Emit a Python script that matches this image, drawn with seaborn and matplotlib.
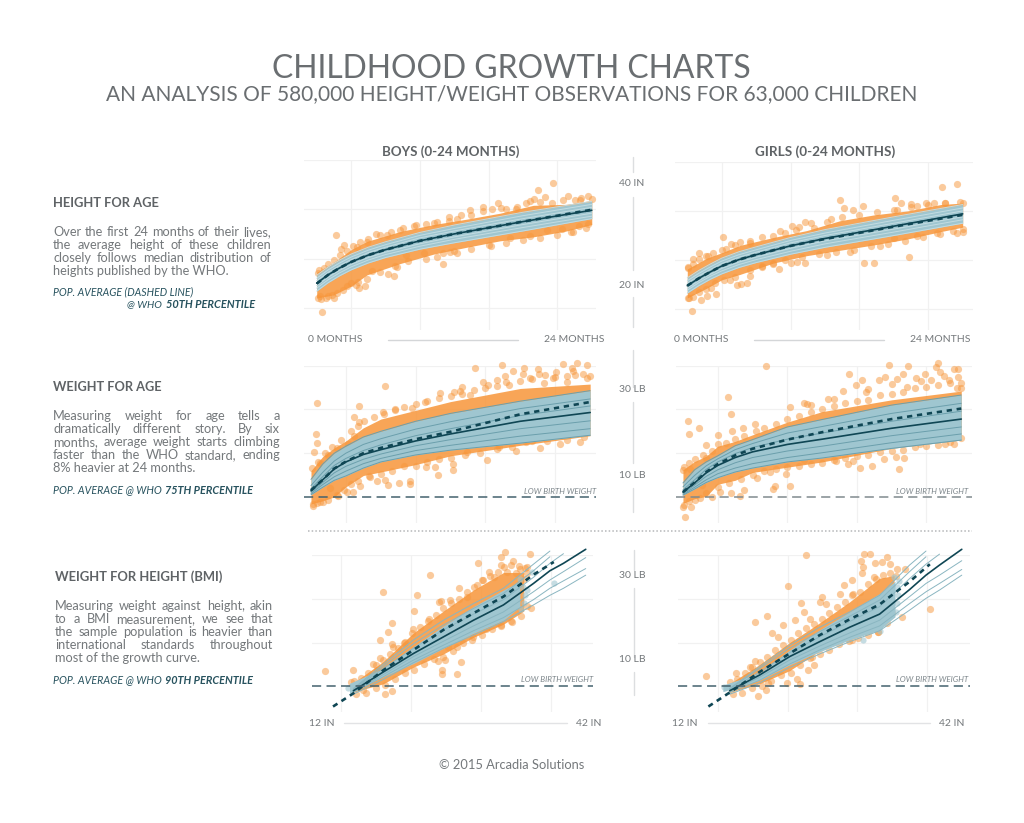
import matplotlib
matplotlib.use("Agg")
import matplotlib.pyplot as plt
import seaborn as sns
import numpy as np

# ---------- data ----------
age_knots = [0, 1, 2, 3, 4.5, 6, 9, 12, 18, 24]
bmi_knots = [19.7, 22.8, 25.9, 29.0, 32.1, 35.2, 38.3, 40.0, 41.4, 43.7]
nan = float("nan")

# boys height (in)
bh_p03 = [18.4,20.1,21.5,22.7,24.1,25.2,26.9,28.2,30.6,33.1]
bh_p10 = [19.0,20.7,22.1,23.3,24.7,25.8,27.5,28.9,31.3,33.6]
bh_p25 = [19.5,21.2,22.6,23.8,25.2,26.3,28.0,29.4,31.9,34.2]
bh_p50 = [20.0,21.7,23.1,24.3,25.7,26.8,28.6,30.0,32.5,34.8]
bh_p75 = [20.5,22.2,23.6,24.8,26.2,27.3,29.2,30.6,33.1,35.4]
bh_p90 = [21.0,22.7,24.1,25.3,26.7,27.8,29.7,31.1,33.7,36.0]
bh_p97 = [21.6,23.3,24.7,25.9,27.3,28.4,30.3,31.8,34.4,36.6]
bh_pop = [19.9,21.7,23.1,24.3,25.7,26.8,28.6,30.0,32.5,34.9]
bh_env_x = [0,1.45,3,4.4,7.3,10.2,13.1,16,18.9,21.8,24]
bh_env_hi = [22.2,24.2,26.8,28.5,30.5,31.9,33.0,34.2,35.8,36.0,36.8]
bh_env_lo = [17.0,17.6,19.4,21.7,24.0,25.9,27.3,28.6,29.4,30.6,31.9]
bh_points = [(20.6,40.4),(19.3,38.9),(21.9,37.6),(23.7,37.6),(23.1,37.2),(22.5,36.9),(19.9,37.4),(19,37),(18.6,36.6),(18.3,36.2),(15.8,36.2),(14.5,35.5),(13.4,34.8),(15.3,35),(16.1,35.3),(17.4,35.1),(11.5,33.5),(12.6,33.9),(12.2,33),(1.7,29.7),(2.4,27.8),(2.1,27),(5.2,29.9),(4.4,28.4),(3.5,27.4),(7.3,30.8),(6.1,29.8),(8.7,31.8),(10.2,32.2),(11,23.9),(6.2,21.8),(6.7,21.4),(4.2,19.5),(3.6,20.3),(3.7,19),(3,20.1),(2.3,18.6),(1.5,17),(1,17.3),(0.5,14.1),(4.8,22.4),(6.8,23.4),(15.2,27.6),(12.2,26.2),(11.6,26.4),(11,26.2),(22.4,30.3),(22.9,31.6),(23.7,32),(21.4,30.9),(20.1,30.8),(18.6,29.6),(16.9,29.1),(9.4,26.1),(7.8,25.7),(.15,22),(.3,17.3)]
bh_edge = [(0.2,22.6),(0.6,23),(1,23.8),(1.5,24.8),(2,25.7),(2.6,26.6),(3.2,27.5),(3.8,28.3),(4.5,28.9),(5.5,29.8),(6.5,30.3),(7.5,31.1),(8.5,31.6),(9.5,32),(10.5,32.4),(11.5,32.6),(13.5,33.9),(14.5,34.6),(16.5,35),(17.5,35.4),(19.5,36.5),(20.5,36.3),(21.5,36.8),(23,36.8),(24,37),(.1,17),(.4,16.7),(.8,16.9),(1.3,17.6),(1.8,18),(2.6,19.4),(3.4,19.6),(4.4,20.8),(5.5,22.2),(7,23.3),(8,24.5),(9.5,24.9),(10.5,25.4),(12,26.6),(13.5,26.9),(15,27.8),(16.5,28.2),(18,28.7),(19.5,29.2),(21,29.7),(22.2,30.4),(23.5,31.3)]

# girls height (in)
gh_p03 = [18.3,19.8,21.1,22.2,23.5,24.5,26.2,27.6,30.0,32.5]
gh_p10 = [18.9,20.4,21.7,22.8,24.1,25.1,26.8,28.3,30.7,33.2]
gh_p25 = [19.3,20.8,22.1,23.3,24.6,25.6,27.4,28.9,31.3,33.8]
gh_p50 = [19.8,21.3,22.6,23.8,25.1,26.1,27.9,29.4,31.9,34.4]
gh_p75 = [20.3,21.8,23.1,24.3,25.6,26.6,28.5,30.0,32.5,35.0]
gh_p90 = [20.8,22.3,23.6,24.8,26.1,27.1,29.0,30.5,33.1,35.6]
gh_p97 = [21.4,22.9,24.2,25.4,26.7,27.7,29.6,31.2,33.8,36.3]
gh_pop = [19.8,21.3,22.6,23.8,25.1,26.1,27.9,29.3,31.8,34.2]
gh_env_x = [0,1.7,3,4.6,7.5,10.4,13.3,16.3,19.2,22.1,24]
gh_env_hi = [23.2,25.4,26.5,28.0,29.6,31.0,33.0,34.2,35.0,36.3,36.6]
gh_env_lo = [17.3,19.3,21,22.1,24.4,25.9,27.0,28.1,29.3,30.8,31.7]
gh_points = [(22.2,39.9),(23.5,40.4),(13.3,37.2),(18.1,37.6),(18.6,36.6),(15.3,36),(13.7,35.5),(14.4,35.2),(19.5,36.4),(20.8,36.6),(21.5,36.6),(22.5,36.7),(24,36.6),(20,35.9),(18.3,35.2),(10.3,32.8),(10.8,32.5),(8.1,31),(9.1,32),(9.7,31.8),(12.2,32.8),(3.1,29.7),(3.4,27.2),(4.2,28.1),(5.5,28.4),(1.8,25.9),(1,26.4),(.5,25.2),(.1,23.4),(5.5,21.8),(5.2,20.3),(4.7,20.2),(4.3,19.9),(3.7,21),(2.5,18.2),(2.1,19.3),(1.7,17.8),(1.2,16.8),(.4,14.7),(.15,17.3),(8,23.2),(7.5,24.3),(6.5,23.9),(9,24.5),(9.6,24.7),(10.3,24.4),(12.2,26.1),(14.2,26.6),(15.4,24.5),(16.3,24.5),(16.8,27.9),(19.3,25.6),(18,29.5),(20,29.8),(21.8,30.5),(23.5,30.5),(24,30.8)]
gh_edge = [(.1,23.6),(.5,24.2),(1,25.2),(1.6,25.9),(2.2,26.5),(3,27.1),(3.8,28.3),(4.6,28.6),(5.5,28.9),(6.5,29.6),(7.5,30),(8.5,30.5),(9.5,31.2),(11,31.6),(12.5,33.3),(13.5,33.7),(15,34.2),(16.5,34.7),(18,35.1),(19.5,35.7),(21,36.3),(22.5,36.7),(23.8,36.9),(.1,17.4),(.5,17.6),(1,18.6),(1.6,19.2),(2.4,20.4),(3.2,21),(4.2,21.6),(5.5,23),(6.5,23.6),(7.5,24.4),(8.5,25),(10,25.6),(11.5,26.2),(13,26.7),(14.5,27),(16,27.8),(17.5,28.3),(19,28.8),(20.5,29.6),(22,30.4),(23.2,31),(24,31.3)]

# boys weight (lb)
bw_p03 = [5.5,7.2,8.8,9.8,11.6,13.0,14.6,15.7,17.3,19.1]
bw_p10 = [5.8,7.8,9.6,10.9,12.6,13.8,15.6,16.8,18.9,20.6]
bw_p25 = [6.1,8.3,10.5,12.0,13.6,14.8,16.7,18.1,20.6,22.4]
bw_p50 = [6.4,8.9,11.4,13.0,14.7,15.8,17.8,19.4,22.3,24.3]
bw_p75 = [6.9,9.6,12.2,13.8,15.6,16.9,19.0,20.6,23.6,25.8]
bw_p90 = [7.6,10.6,13.2,15.0,17.0,18.3,20.5,22.2,25.2,27.4]
bw_p97 = [9.0,12.5,15.0,16.6,18.7,20.0,22.3,24.1,26.9,29.3]
bw_pop = [6.5,8.9,11.5,13.1,15.0,16.2,18.2,19.9,23.9,26.7]
bw_env_hi = [11.0,14.2,16.2,17.8,20.8,22.8,24.8,26.8,29.8,30.8]
bw_env_lo = [3.4,4.1,5.0,7.3,9.9,10.7,12.4,14.4,16.8,19.0]
bw_points = [(14.1,34.4),(16.4,35.1),(18.3,34.5),(21.7,35.5),(22.9,35.7),(23.7,35.1),(22.4,34.4),(19.5,34.2),(20.1,32.8),(17.4,33.7),(16,31.8),(15.2,30.7),(16.8,31.3),(18.8,32.1),(20.8,32.1),(23.7,32.1),(22,31.3),(12.8,29.2),(11.1,28.8),(12.3,28.9),(13.7,28.3),(9.8,26.6),(8.7,25.4),(6.4,30.3),(7.2,24.8),(.5,26.5),(4.1,25.8),(3.7,23.2),(4.1,22.2),(6.2,24.5),(.4,19.3),(.5,17.4),(.3,15.3),(3.2,17.2),(3.7,19),(2.2,16.1),(1.5,14.6),(.8,12.7),(12.2,12.5),(12.2,11.2),(10.9,10),(10.7,11.9),(9.9,11.9),(15.1,13.4),(17.6,15.6),(19.7,16.1),(23.1,17.6),(21.4,17.2),(21.1,19.1),(8.5,8.6),(8.5,7.9),(7.6,8.1),(6.6,7.7),(6.4,8.9),(5.7,8.6),(5.1,9.6),(4.2,7.4),(3.6,6.2),(3.1,6.2),(2.3,5.1),(1.6,7),(.2,3.3),(.8,3.9),(18.5,17.6),(16.2,16.5),(13.4,15.3)]
bw_edge = [(.1,11.5),(.6,13),(1.2,15),(1.8,16.5),(2.6,18),(3.4,20),(4,21.2),(4.6,22.3),(5.4,23.3),(6.3,24),(7.2,25),(8,25.6),(9,26.3),(10,27),(11,27.6),(12,28.1),(13,28.5),(14,29.5),(15,29.8),(16,30.3),(17,30.7),(18,31.5),(19,31.9),(20,31),(21,32.5),(22,32.6),(22.7,32.9),(23.4,33),(24,32.7),(18.2,33),(19.6,33.2),(21.1,33.6),(22.5,33.8),(16.7,32.6),(14.8,31.2),(13,30.1),(.2,3),(.5,3.5),(1,3.8),(1.5,4.4),(2.2,5.4),(2.8,6.5),(3.4,8),(4,8.7),(5,9.7),(6,10.2),(7,11),(8,12),(9,12),(10,13),(11,13.6),(12,14),(13.2,14.6),(14.5,15.1),(16,15.9),(17.3,16.5),(19,17.8),(20.3,17.7),(22,18),(23.5,18.6)]

# girls weight (lb)
gw_p03 = [5.4,6.8,8.3,9.4,10.7,11.6,13.0,13.9,16.1,18.0]
gw_p10 = [5.6,7.2,8.9,10.3,11.6,12.6,14.0,15.1,17.4,19.4]
gw_p25 = [5.8,7.7,9.7,11.2,12.8,14.0,15.5,16.6,19.0,21.0]
gw_p50 = [6.1,8.2,10.5,12.2,14.0,15.3,17.0,18.2,20.7,22.8]
gw_p75 = [6.6,8.9,11.3,13.0,14.9,16.3,18.2,19.6,22.3,24.6]
gw_p90 = [7.3,9.9,12.1,13.7,15.8,17.2,19.6,21.1,24.1,26.4]
gw_p97 = [8.2,11.2,13.0,14.4,16.7,18.1,21.0,22.7,26.0,28.3]
gw_pop = [6.1,8.3,10.7,12.5,14.5,16.0,18.1,19.8,22.8,25.2]
gw_env_hi = [11.2,13.1,14.3,16.6,17.7,19.2,22.1,24.5,27.2,29.2]
gw_env_lo = [3.5,4.6,5.1,7.9,8.8,10.6,11.8,13.0,16.1,18.0]
gw_points = [(7.2,34.9),(14.3,33.2),(17.8,35.1),(19.4,35),(22,35.7),(21.8,34.7),(23.4,34.2),(23.7,34.2),(22.2,33.6),(16.9,31.8),(17.4,32.5),(18.5,31.9),(19,33),(15.4,31.7),(14.9,30.7),(13.8,29.2),(20.1,32.1),(20.9,33.2),(23.7,32.5),(22.9,31.7),(23.6,29.8),(19.3,30.2),(15.8,29),(13,27.5),(10.4,26.4),(10.7,26.2),(9.2,25.6),(3.9,27.8),(4.1,23.9),(.4,22.4),(1.4,20.8),(.5,19.4),(3,19.1),(2,16.9),(4.2,20),(6.2,21.7),(5.2,20.7),(2,13.8),(.03,11.2),(.6,11.4),(18.6,11.4),(15.3,11.5),(16.3,12.1),(17.3,13.7),(19.1,13.8),(18.4,14.2),(14.2,12.5),(14.7,13.1),(13.2,13.1),(20.4,17.2),(22.6,17.2),(23.4,17.2),(9.2,7.6),(7.9,7.6),(7.8,6.8),(8.9,10.2),(6.4,9.3),(5.3,6.6),(4.9,5.1),(4.1,5.8),(3.2,6.2),(2.5,4.9),(1.6,7.7),(.7,2.6),(0,2.6),(.2,.5),(7.5,10.8),(10.4,13.4),(24,18.5)]
gw_edge = [(.1,11.8),(.5,12.8),(1,13.6),(1.7,14.5),(2.5,15.5),(3,17),(3.7,17.3),(4.5,18.3),(5.3,18.9),(6.3,20),(7,20.7),(8,21.6),(9,22.8),(10,23.6),(11,24.5),(12,25.1),(13,25.7),(14,26.4),(15,26.9),(16,27.2),(17,28.2),(18,28.6),(19,29.1),(20,30),(21,30.2),(22,30.5),(23,31),(24,31),(24,30),(21.4,31.8),(20.5,31.5),(22.5,32.6),(16,29.7),(18,30.8),(12.5,27.3),(11,26),(.1,3.2),(.5,4),(1,4.3),(1.5,4.8),(2,5.8),(3,7.3),(4,8.1),(5,9),(6,10),(7,10.9),(8,11.3),(9,11.9),(10,12.1),(11,12.6),(12,12.8),(13,13.4),(14,13.8),(15,14.3),(16,14.6),(17,15.2),(18,15.5),(19,15.8),(20,16.4),(21,16.6),(22,16.8),(23,17.6)]

# boys weight for height
bb_p03 = [3.2,6.6,10.4,13.7,16.7,19.8,23.6,25.8,27.4,30.4]
bb_p10 = [3.6,7.2,11.0,14.4,17.7,20.7,24.8,27.4,29.1,31.9]
bb_p25 = [3.8,7.7,11.8,15.3,18.8,22.0,26.6,29.3,31.2,34.4]
bb_p50 = [4.0,8.3,12.5,16.3,20.1,23.6,28.5,31.4,33.1,36.3]
bb_p75 = [4.2,9.1,13.7,17.9,21.5,24.8,29.9,33.1,35.3,nan]
bb_p90 = [4.4,9.6,14.7,19.0,22.8,26.2,31.4,34.6,nan,nan]
bb_p97 = [4.5,10.1,15.6,20.1,23.9,27.4,32.9,35.9,nan,nan]
bb_pop_x = [17.6,19.7,22.8,25.9,29.0,32.1,35.2,38.3,40.4]
bb_pop = [0.4,3.4,8.7,13.3,17.9,21.7,25.5,30.5,33.4]
bb_band_x = [19.3,22.8,25.9,29.0,32.1,35.2,36.9]
bb_band_hi = [5.7,9.1,14.05,18.8,23.2,27,29.0]
bb_band_lo = [3.4,7.2,10.2,13.7,17.1,20.1,23.2]
bb_env_x = [19.5,22.8,25.9,29,32.1,35.2,37.3]
bb_env_hi = [5.5,10.7,17.2,22.2,27.0,31.0,31.0]
bb_env_lo = [3.6,5.6,9.4,12.4,16.2,19.2,22.2]
bb_points = [(16.8,8.4),(19.7,8.7),(22.8,26.6),(26.3,25.8),(27.6,30.5),(26,22.3),(23.7,19.4),(23.3,17.5),(22.5,15.5),(23.7,14.7),(23.8,14),(22.5,11.4),(21.7,10.2),(23,3.2),(23.7,3.9),(28.9,8.7),(28.9,7.8),(30.4,7.8),(30.8,10.5),(29.2,11),(28.4,10.9),(30.4,13.9),(29.5,14),(33.4,18),(35,19),(36.1,19.8),(37.6,23.3),(38,22.8),(34.5,19.4),(32.1,16.3),(32.6,33.2),(35,34.6),(35.4,35.6),(36.2,33.7),(37.9,35.2),(36.9,31.9),(37.6,32.3),(33.7,31.2),(35,32.7),(32.5,28.1),(30.6,27.4),(28.5,24.3),(28.8,24.5),(27.5,20.5),(29.7,24.8),(35.6,31.2),(31.4,25.5),(33.1,29.3),(34.2,30),(36.5,30.8),(19.5,6.1),(20.7,4.2),(25.9,18.2),(24.9,14.8),(22.1,8.7)]
bb_edge = [(19.8,6.2),(20.5,7),(21.2,8.1),(22,9.8),(22.8,11),(23.5,12.5),(24.3,13.8),(25,15.2),(25.8,17.3),(26.6,18.5),(27.4,20),(28.2,21.2),(29,22.8),(29.8,24),(30.6,25),(31.4,26.5),(32.2,27.8),(33,29.3),(33.8,30.3),(34.6,31.2),(35.3,32.3),(36,32.8),(36.8,32.5),(37.4,32),(37.6,30.8),(37.3,29.5),(20,3.3),(21,3.6),(22,4.6),(23,5.3),(24,6.8),(25,8),(26,8.8),(27,10),(28,11.2),(29,11.8),(30,13.1),(31,14.8),(32,15.7),(33,16.7),(34,18),(35,18.7),(36,20),(37,21)]
bb_faint = [(19.1,4.6),(37.2,27.7),(37.4,25.8),(37.3,24),(37,22.6),(36.9,29.6),(38.1,31.2),(40.4,28.6),(37.6,26.9)]

# girls weight for height
gb_p03 = [3.2,5.8,9.3,12.4,15.2,17.7,22.4,25.1,27.0,30.4]
gb_p10 = [3.6,6.4,10.1,13.3,16.2,18.8,23.9,26.6,28.5,31.7]
gb_p25 = [3.8,7.1,11.0,14.2,17.2,20.1,25.5,28.5,30.4,33.7]
gb_p50 = [4.0,7.6,11.8,15.2,18.5,21.5,27.1,30.4,32.7,36.3]
gb_p75 = [4.2,8.3,12.7,16.3,19.8,23.2,29.6,32.9,35.2,nan]
gb_p90 = [4.4,9.1,13.7,17.5,21.0,24.7,31.2,34.6,nan,nan]
gb_p97 = [4.5,9.5,14.4,18.5,22.0,25.8,32.7,35.9,nan,nan]
gb_pop_x = [17.5,19.7,22.8,25.9,29.0,32.1,35.2,38.3,40.4]
gb_pop = [0.4,3.6,8.3,12.5,16.7,20.3,23.7,28.9,32.9]
gb_band_x = [19.0,22.8,25.9,29.0,32.1,35.2,36.8]
gb_band_hi = [5.3,8.1,13.3,17.9,22.0,26.2,29.0]
gb_band_lo = [3.8,6.4,9.9,12.9,15.6,17.9,20.9]
gb_env_x = [19.6,22.8,25.9,29,32.1,35.2,36.7]
gb_env_hi = [5.5,10.0,15.0,19.5,24.3,29.7,30.3]
gb_env_lo = [3.6,5.6,8.6,13.1,15.8,18.1,21.1]
gb_points = [(27.6,35),(33.6,35.2),(34.2,35.3),(36,34.5),(33.3,33.7),(33.5,32.2),(36.3,32.9),(35.4,33.4),(34.7,33.1),(33.4,30.9),(37,31.9),(37.8,31.9),(32.4,29.4),(31.5,28.1),(31.1,26.2),(25.7,28),(40.4,22.6),(37.5,20.9),(36.5,21.7),(35.6,20.1),(35,17.5),(34.6,18.8),(22.3,19.6),(23.6,21),(27.1,24.1),(29.2,25.3),(29,24.3),(27.4,22),(26.5,20.1),(25.2,19),(24.1,17.1),(24.7,16.3),(17.3,7.4),(22.6,2.8),(25.6,5.8),(26.7,6.6),(27,5.5),(28.4,9.9),(27.8,8.7),(28.2,11.6),(32.3,15.7),(31.8,16),(33.2,17.5),(20.4,8),(21.8,9.5),(22.3,10.9),(20.3,5),(32.5,26.2),(29.7,23.9),(34.6,30),(28,20.5),(23.5,4.2),(23.7,5.7)]
gb_edge = [(19.7,6),(20.5,6.8),(21.3,8),(22,9.5),(22.8,10.5),(23.6,11.8),(24.4,13.2),(25.2,14.5),(26,15.6),(26.8,17.2),(27.6,18.3),(28.4,19.2),(29.2,20.3),(30,21.8),(30.8,23.2),(31.6,24.3),(32.4,25.8),(33.2,26.6),(34,28.3),(34.8,29.6),(35.6,30.5),(36.3,31),(36.9,30.2),(20,3.3),(21,3.5),(22,4.7),(23,5.1),(24,6.2),(25,7.6),(26,8),(27,9.9),(28,11.4),(29,12.5),(30,13.2),(31,14.6),(32,15.3),(33,16),(34,16.8),(35,17.5),(36,19.5)]
gb_faint = [(19.1,4.8),(37,27.8),(37.1,25.9),(37,24),(36.9,22),(36.7,30),(37.2,29),(33.5,15.6),(35.2,17.6)]

low_birth_weight = 5.0
age_grid = [3, 9, 15, 21]
height_grid = [15, 25, 35, 45]
weight_grid = [15, 25, 35]
bmi_grid = [18.46, 25.7, 32.9, 40.1]

# ---------- style ----------
sns.set_theme(style="white")
plt.rcParams["font.family"] = ["Lato", "DejaVu Sans"]
W, H = 1024, 823
fig = plt.figure(figsize=(W/100, H/100), dpi=100, facecolor="white")
renderer = fig.canvas.get_renderer()
GREY = "#74787b"
TEAL = "#27525e"
ORANGE = "#f7963a"
DARK = "#0f4654"

def put(s, x, y, size=9, color=GREY, ha="left", **kw):
    return fig.text(x/W, 1-y/H, s, fontsize=size, color=color, ha=ha, va="center", **kw)

def fit(s, x0, x1, y, size=9, color=GREY, **kw):
    t = put(s, x0, y, size, color, **kw)
    w = t.get_window_extent(renderer).width
    t.set_fontsize(size*(x1-x0)/w)
    return t

def justified(s, x0, x1, y, size=9.2, color=GREY):
    words = s.split()
    widths = []
    for w in words:
        t = put(w, 0, y, size, color)
        widths.append(t.get_window_extent(renderer).width)
        t.remove()
    gap = (x1-x0-sum(widths))/(len(words)-1)
    x = x0
    for w, wd in zip(words, widths):
        put(w, x, y, size, color)
        x += wd+gap

def hline(x0, x1, y, color="#d4d6d8", lw=1, **kw):
    fig.add_artist(plt.Line2D([x0/W, x1/W], [1-y/H, 1-y/H], color=color, lw=lw, **kw))

def vline(x, y0, y1, color="#dcdee0", lw=1):
    fig.add_artist(plt.Line2D([x/W, x/W], [1-y0/H, 1-y1/H], color=color, lw=lw))

def panel(rect, xlim, ylim, gx, gy, env, points, band, lines, solid, pop, lw_color, pop_x=None, x=None, lbw=None, faint=None):
    x0, y0, x1, y1 = rect
    ax = fig.add_axes([x0/W, 1-y1/H, (x1-x0)/W, (y1-y0)/H])
    ax.set_xlim(*xlim); ax.set_ylim(*ylim)
    ax.set_xticks(gx); ax.set_yticks(gy)
    ax.set_xticklabels([]); ax.set_yticklabels([])
    ax.tick_params(length=0)
    ax.grid(True, color="#f1f1f1", lw=0.9)
    ax.set_axisbelow(True)
    sns.despine(ax=ax, left=True, bottom=True)
    ex, ehi, elo = env
    ax.fill_between(ex, elo, ehi, color=ORANGE, alpha=0.85, lw=0, zorder=2)
    px, py = zip(*points)
    sns.scatterplot(x=list(px), y=list(py), ax=ax, s=27, color=ORANGE, alpha=0.5,
                    linewidth=0, legend=False, zorder=3, clip_on=False)
    bx, bhi, blo = band
    ax.fill_between(bx, blo, bhi, color="#9fc6d0", lw=0, zorder=4)
    if faint is not None:
        fx, fy = zip(*faint)
        sns.scatterplot(x=list(fx), y=list(fy), ax=ax, s=20, color="#9fc6d0", alpha=0.6,
                        linewidth=0, legend=False, zorder=4, clip_on=False)
    for ln in lines:
        sns.lineplot(x=x, y=ln, ax=ax, color=lw_color, lw=0.7, estimator=None, errorbar=None,
                     legend=False, zorder=5, clip_on=False)
    sns.lineplot(x=x, y=solid, ax=ax, color=DARK, lw=1.2, estimator=None, errorbar=None,
                 legend=False, zorder=6, clip_on=False)
    sns.lineplot(x=(pop_x if pop_x is not None else x), y=pop, ax=ax, color=DARK, lw=1.9,
                 linestyle=(0, (2.0, 1.8)), estimator=None, errorbar=None, legend=False, zorder=7, clip_on=False)
    if lbw is not None:
        ax.axhline(low_birth_weight, color=lbw, lw=1.1, dashes=(6, 3.5), zorder=8)
    return ax

# ---------- panels ----------
H_LINE = "#c3dce2"
W_LINE = "#6b9fac"
B_LINE = "#8ab6c1"
panel((304,160,596,330), (-1.11,24.37), (10.5,45), age_grid, height_grid,
      (bh_env_x,bh_env_hi,bh_env_lo), bh_points+bh_edge, (age_knots,bh_p97,bh_p03),
      [bh_p03,bh_p10,bh_p25,bh_p75,bh_p90,bh_p97], bh_p50, bh_pop, H_LINE, x=age_knots)
panel((675,161.7,973,330), (-1.07,24.9), (10.8,45), age_grid, height_grid,
      (gh_env_x,gh_env_hi,gh_env_lo), gh_points+gh_edge, (age_knots,gh_p97,gh_p03),
      [gh_p03,gh_p10,gh_p25,gh_p75,gh_p90,gh_p97], gh_p50, gh_pop, H_LINE, x=age_knots)
panel((304,365.7,596,523), (-0.6,24.5), (-0.96,35), age_grid, weight_grid,
      (age_knots,bw_env_hi,bw_env_lo), bw_points+bw_edge, (age_knots,bw_p97,bw_p03),
      [bw_p03,bw_p10,bw_p25,bw_p75,bw_p90,bw_p97], bw_p50, bw_pop, W_LINE, x=age_knots, lbw="#44626e")
panel((676,365.7,971.7,523), (-0.6,24.9), (-0.96,35), age_grid, weight_grid,
      (age_knots,gw_env_hi,gw_env_lo), gw_points+gw_edge, (age_knots,gw_p97,gw_p03),
      [gw_p03,gw_p10,gw_p25,gw_p75,gw_p90,gw_p97], gw_p50, gw_pop, W_LINE, x=age_knots, lbw="#808a8e")
panel((312,555,593,711.7), (15.43,44.45), (-0.78,35), bmi_grid, weight_grid,
      (bb_env_x,bb_env_hi,bb_env_lo), bb_points+bb_edge, (bb_band_x,bb_band_hi,bb_band_lo),
      [bb_p03,bb_p10,bb_p25,bb_p75,bb_p90,bb_p97], bb_p50, bb_pop, B_LINE, pop_x=bb_pop_x, x=bmi_knots, lbw="#44626e", faint=bb_faint)
panel((678.3,555,970,711.7), (14.39,44.55), (-0.78,35), bmi_grid, weight_grid,
      (gb_env_x,gb_env_hi,gb_env_lo), gb_points+gb_edge, (gb_band_x,gb_band_hi,gb_band_lo),
      [gb_p03,gb_p10,gb_p25,gb_p75,gb_p90,gb_p97], gb_p50, gb_pop, B_LINE, pop_x=gb_pop_x, x=bmi_knots, lbw="#44626e", faint=gb_faint)

# ---------- titles ----------
fit("CHILDHOOD GROWTH CHARTS", 272, 752, 69, 24, "#6a6e71")
fit("AN ANALYSIS OF 580,000 HEIGHT/WEIGHT OBSERVATIONS FOR 63,000 CHILDREN", 106, 918, 94, 14, "#6a6e71")
fit("BOYS (0-24 MONTHS)", 382, 519, 152, 9, "#5f6366", fontweight="bold")
fit("GIRLS (0-24 MONTHS)", 755, 895, 152, 9, "#5f6366", fontweight="bold")

# ---------- axis captions ----------
for s, y in [("40 IN", 183), ("20 IN", 285), ("30 LB", 390), ("10 LB", 475), ("30 LB", 575), ("10 LB", 660)]:
    put(s, 632, y, 7.5, GREY, ha="center")
for s, cx, y in [("0 MONTHS", 335, 339), ("24 MONTHS", 574, 339), ("0 MONTHS", 701, 339), ("24 MONTHS", 940, 340),
                 ("12 IN", 322, 723), ("42 IN", 589, 723), ("12 IN", 685, 723), ("42 IN", 952, 723)]:
    put(s, cx, y, 7.5, GREY, ha="center")
hline(388, 518, 340); hline(754, 884, 340); hline(344, 567, 723, "#e2e3e5"); hline(708, 930, 723, "#e2e3e5")
for y0, y1 in [(157,172),(197,270),(297,327),(350,387),(402,463),(488,512)]:
    vline(632.7, y0, y1)
for y0, y1 in [(550,570),(588,657),(672,695)]:
    vline(634, y0, y1)
hline(308, 972, 531, "#b5b7b9", 1.1, linestyle=(0, (1, 1.4)))

for x1, y in [(596,491), (968,491), (593,679), (968,679)]:
    put("LOW BIRTH WEIGHT", x1, y, 5.8, "#7d868b", ha="right", style="italic")

# ---------- left text ----------
fit("HEIGHT FOR AGE", 53, 159, 203, 9, "#5f6366", fontweight="bold")
for s, y in [("Over the first 24 months of their lives,", 232), ("the average height of these children", 245), ("closely follows median distribution of", 258)]:
    justified(s, 53, 271, y)
put("heights published by the WHO.", 53, 271, 9.2)
fit("POP. AVERAGE (DASHED LINE)", 53, 194, 292, 7, TEAL, style="italic")
fit("@ WHO", 127, 162, 305, 7, TEAL, style="italic")
fit("50TH PERCENTILE", 166, 255, 305, 7, TEAL, style="italic", fontweight="bold")

fit("WEIGHT FOR AGE", 53, 162, 387, 9, "#5f6366", fontweight="bold")
for s, y in [("Measuring weight for age tells a", 416), ("dramatically different story. By six", 429), ("months, average weight starts climbing", 442), ("faster than the WHO standard, ending", 455)]:
    justified(s, 53, 280, y)
put("8% heavier at 24 months.", 53, 468, 9.2)
fit("POP. AVERAGE @ WHO", 53, 162, 490, 7, TEAL, style="italic")
fit("75TH PERCENTILE", 165, 253, 490, 7, TEAL, style="italic", fontweight="bold")

fit("WEIGHT FOR HEIGHT (BMI)", 55, 224, 577, 9, "#5f6366", fontweight="bold")
for s, y in [("Measuring weight against height, akin", 606), ("to a BMI measurement, we see that", 619), ("the sample population is heavier than", 632), ("international standards throughout", 645)]:
    justified(s, 55, 273, y)
put("most of the growth curve.", 55, 658, 9.2)
fit("POP. AVERAGE @ WHO", 53, 162, 680, 7, TEAL, style="italic")
fit("90TH PERCENTILE", 165, 253, 680, 7, TEAL, style="italic", fontweight="bold")

fit("© 2015 Arcadia Solutions", 439, 585, 765, 9, GREY)

fig.savefig("out.png", dpi=100, facecolor="white")
